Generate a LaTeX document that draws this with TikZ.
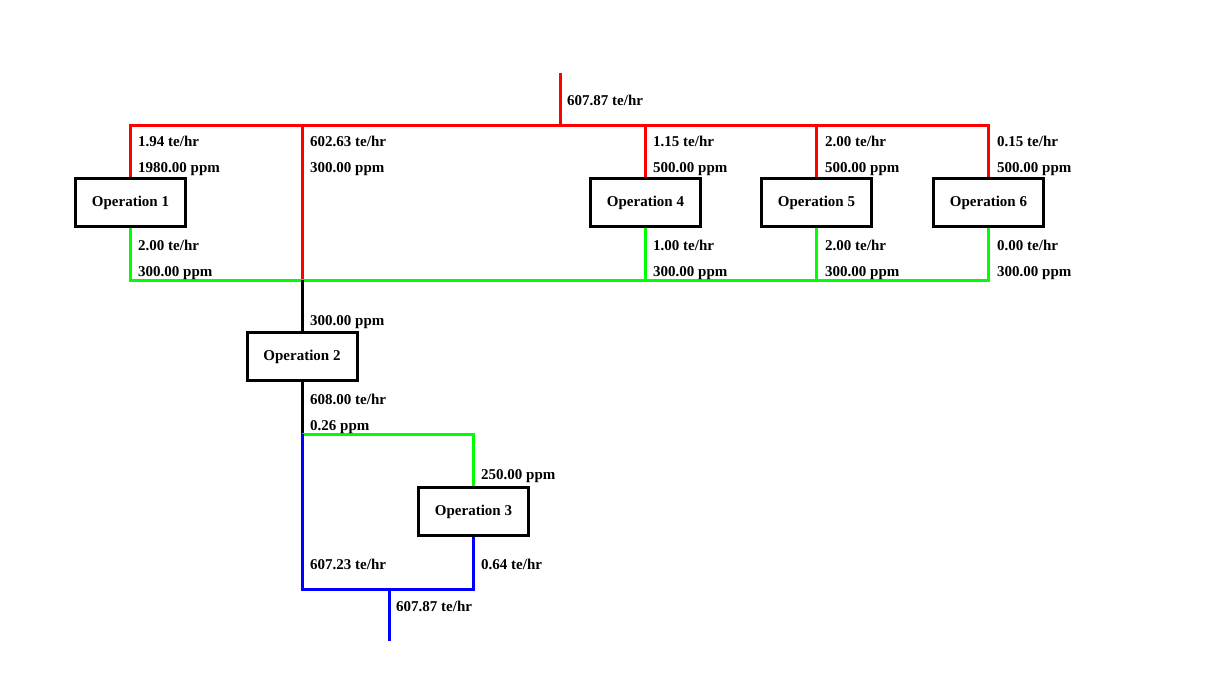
\documentclass[tikz,border=0pt]{standalone}
\usepackage{fontspec}
\setmainfont{Liberation Serif}
\usepackage{xcolor}
\usepackage{tikz}
\usetikzlibrary{calc}
\definecolor{fresh}{RGB}{255,0,0}
\definecolor{reuse}{RGB}{0,255,0}
\definecolor{waste}{RGB}{0,0,255}

\begin{document}
\begin{tikzpicture}[x=1pt,y=-1pt,font=\fontsize{15}{18}\selectfont\bfseries,
  op/.style={draw,line width=3pt,fill=white,minimum width=110pt,minimum height=48pt,inner sep=0pt},
  lbl/.style={anchor=base west,inner sep=0pt},
  rl/.style={draw=fresh,line width=3pt},
  gl/.style={draw=reuse,line width=3pt},
  bl/.style={draw=waste,line width=3pt},
  kl/.style={draw=black,line width=3pt}]
  \useasboundingbox (0,0) rectangle (1205,680);
  % operations
  \node[op] (op1) at (130.5,202.5) {Operation 1};
  \node[op] (op4) at (645.5,202.5) {Operation 4};
  \node[op] (op5) at (816.5,202.5) {Operation 5};
  \node[op] (op6) at (988.5,202.5) {Operation 6};
  \node[op] (op2) at (302,356.5) {Operation 2};
  \node[op] (op3) at (473.5,511.5) {Operation 3};
  % junctions
  \coordinate (feed) at (560,73);
  \coordinate (fbus) at (560,125);
  \coordinate (wbus) at (302,280);
  \coordinate (split) at (302,434);
  \coordinate (mbus) at (389,589);
  \coordinate (out) at (389,641);
  % fresh water
  \draw[rl] (feed) -- (fbus);
  \draw[rl] (op1.north) |- (op6.north |- fbus) -- (op6.north);
  \draw[rl] (op4.north |- fbus) -- (op4.north);
  \draw[rl] (op5.north |- fbus) -- (op5.north);
  \draw[rl] (op2.north |- fbus) -- (wbus);
  % reused water
  \draw[gl] (op1.south) |- (op6.south |- wbus) -- (op6.south);
  \draw[gl] (op4.south) -- (op4.south |- wbus);
  \draw[gl] (op5.south) -- (op5.south |- wbus);
  \draw[kl] (wbus) -- (op2.north);
  \draw[kl] (op2.south) -- (split);
  \draw[gl] (split) -| (op3.north);
  % waste water
  \draw[bl] (split) |- (op3.south |- mbus) -- (op3.south);
  \draw[bl] (mbus) -- (out);
  % labels
  \node[lbl] (lf) at (567,105.5) {607.87 te/hr};
  \node[lbl] (l1a) at (138,146.5) {1.94 te/hr};
  \node[lbl] (l1b) at (138,172.5) {1980.00 ppm};
  \node[lbl] (l2a) at (310,146.5) {602.63 te/hr};
  \node[lbl] (l2b) at (310,172.5) {300.00 ppm};
  \node[lbl] (l4a) at (653,146.5) {1.15 te/hr};
  \node[lbl] (l4b) at (653,172.5) {500.00 ppm};
  \node[lbl] (l5a) at (825,146.5) {2.00 te/hr};
  \node[lbl] (l5b) at (825,172.5) {500.00 ppm};
  \node[lbl] (l6a) at (997,146.5) {0.15 te/hr};
  \node[lbl] (l6b) at (997,172.5) {500.00 ppm};
  \node[lbl] (o1a) at (138,250.5) {2.00 te/hr};
  \node[lbl] (o1b) at (138,276.5) {300.00 ppm};
  \node[lbl] (o4a) at (653,250.5) {1.00 te/hr};
  \node[lbl] (o4b) at (653,276.5) {300.00 ppm};
  \node[lbl] (o5a) at (825,250.5) {2.00 te/hr};
  \node[lbl] (o5b) at (825,276.5) {300.00 ppm};
  \node[lbl] (o6a) at (997,250.5) {0.00 te/hr};
  \node[lbl] (o6b) at (997,276.5) {300.00 ppm};
  \node[lbl] (i2) at (310,325.5) {300.00 ppm};
  \node[lbl] (o2a) at (310,404.5) {608.00 te/hr};
  \node[lbl] (o2b) at (310,430.5) {0.26 ppm};
  \node[lbl] (i3) at (481,479.5) {250.00 ppm};
  \node[lbl] (w2) at (310,569.5) {607.23 te/hr};
  \node[lbl] (w3) at (481,569.5) {0.64 te/hr};
  \node[lbl] (lo) at (396,611.5) {607.87 te/hr};
\end{tikzpicture}
\end{document}
